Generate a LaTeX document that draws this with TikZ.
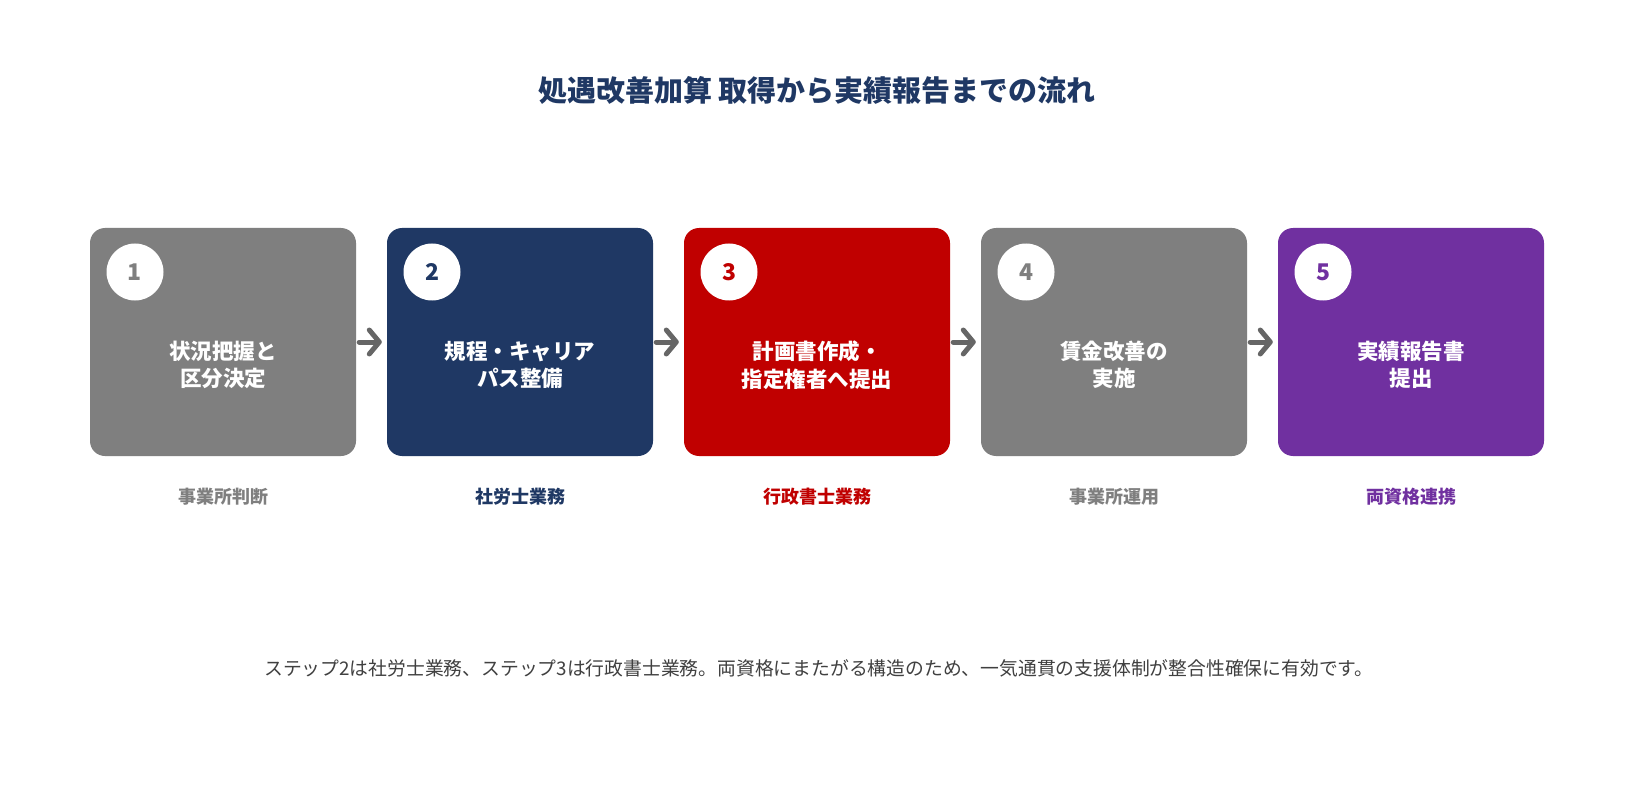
\documentclass[tikz,border=0pt]{standalone}
\usepackage{fontspec}
\setmainfont{Noto Sans CJK JP}
\usetikzlibrary{arrows.meta}
\definecolor{cgray}{HTML}{7F7F7F}
\definecolor{cnavy}{HTML}{1F3864}
\definecolor{cred}{HTML}{C00000}
\definecolor{cpurple}{HTML}{7030A0}
\definecolor{carrow}{HTML}{666666}
\definecolor{cfoot}{HTML}{404040}
\tikzset{
  stepbox/.style={draw=none, rounded corners=15pt, minimum width=266pt, minimum height=228pt, inner sep=0pt},
  numcircle/.style={circle, fill=white, minimum size=57pt, inner sep=0pt, font=\fontsize{23}{23}\selectfont\bfseries},
  boxtext/.style={text=white, align=center, font=\fontsize{21.5}{27.5}\selectfont\bfseries},
  steplabel/.style={font=\fontsize{18}{18}\selectfont\bfseries},
  flowarrow/.style={draw=carrow, line width=5pt, line cap=round, shorten <=3pt, shorten >=5pt,
    -{Straight Barb[length=10pt, width=24pt, line cap=round, line join=round]}},
}
\begin{document}
\begin{tikzpicture}[x=1pt, y=-1pt]
\useasboundingbox (0,0) rectangle (1635,810);
\fill[white] (0,0) rectangle (1635,810);

\node[text=cnavy, font=\fontsize{29}{29}\selectfont\bfseries] (title) at (817,90) {処遇改善加算 取得から実績報告までの流れ};

% boxes
\node[stepbox, fill=cgray]   (b1) at (223,342) {};
\node[stepbox, fill=cnavy]   (b2) at (520,342) {};
\node[stepbox, fill=cred]    (b3) at (817,342) {};
\node[stepbox, fill=cgray]   (b4) at (1114,342) {};
\node[stepbox, fill=cpurple] (b5) at (1411,342) {};

% number circles
\node[numcircle, text=cgray]   (n1) at (135,272) {1};
\node[numcircle, text=cnavy]   (n2) at (432,272) {2};
\node[numcircle, text=cred]    (n3) at (729,272) {3};
\node[numcircle, text=cgray]   (n4) at (1026,272) {4};
\node[numcircle, text=cpurple] (n5) at (1323,272) {5};

% box texts
\node[boxtext] (t1) at (223,365) {状況把握と\\区分決定};
\node[boxtext] (t2) at (520,365) {規程・キャリア\\パス整備};
\node[boxtext] (t3) at (817,365) {計画書作成・\\指定権者へ提出};
\node[boxtext] (t4) at (1114,365) {賃金改善の\\実施};
\node[boxtext] (t5) at (1411,365) {実績報告書\\提出};

% labels
\node[steplabel, text=cgray]   (l1) at (223,497) {事業所判断};
\node[steplabel, text=cnavy]   (l2) at (520,497) {社労士業務};
\node[steplabel, text=cred]    (l3) at (817,497) {行政書士業務};
\node[steplabel, text=cgray]   (l4) at (1114,497) {事業所運用};
\node[steplabel, text=cpurple] (l5) at (1411,497) {両資格連携};

% arrows
\draw[flowarrow] (b1.east) -- (b2.west);
\draw[flowarrow] (b2.east) -- (b3.west);
\draw[flowarrow] (b3.east) -- (b4.west);
\draw[flowarrow] (b4.east) -- (b5.west);

% footer
\node[text=cfoot, font=\fontsize{18.8}{18.8}\selectfont] (foot) at (819,668) {ステップ2は社労士業務、ステップ3は行政書士業務。両資格にまたがる構造のため、一気通貫の支援体制が整合性確保に有効です。};
\end{tikzpicture}
\end{document}
